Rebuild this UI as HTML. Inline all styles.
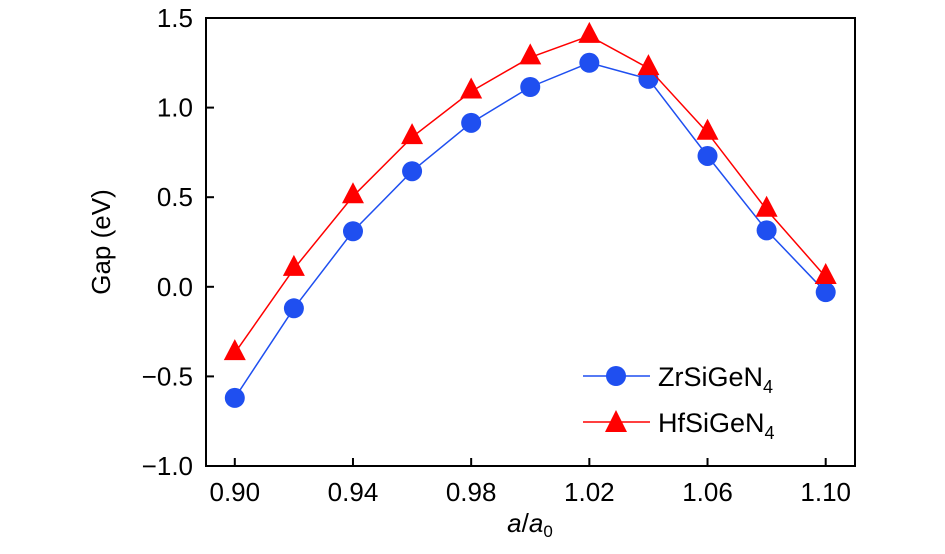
<!DOCTYPE html>
<html><head><meta charset="utf-8"><style>
body{margin:0;background:#fff}
text{font-family:"Liberation Sans",sans-serif;fill:#000}
</style></head><body>
<svg id="chart" width="945" height="549" xmlns="http://www.w3.org/2000/svg">
<g id="marks"></g>
<rect x="206" y="18" width="649" height="448" fill="none" stroke="#000" stroke-width="2"/>
<g id="axes"></g>
<text x="110" y="242" font-size="26" text-anchor="middle" transform="rotate(-90 110 242)">Gap (eV)</text>
<text x="530" y="532" font-size="26" text-anchor="middle"><tspan font-style="italic">a</tspan>/<tspan font-style="italic">a</tspan><tspan font-size="17" dy="5">0</tspan></text>
<g>
<line x1="583" y1="376" x2="650" y2="376" stroke="#1f4ff0" stroke-width="1.5"/>
<circle cx="616" cy="376" r="10" fill="#1f4ff0"/>
<text x="658" y="386" font-size="27">ZrSiGeN<tspan font-size="18" dy="7">4</tspan></text>
<line x1="583" y1="422" x2="650" y2="422" stroke="#ff0000" stroke-width="1.5"/>
<polygon points="616,410 627,432 605,432" fill="#ff0000"/>
<text x="658" y="432" font-size="27">HfSiGeN<tspan font-size="18" dy="7">4</tspan></text>
</g>
</svg>
<script>
const xValues=[0.90,0.92,0.94,0.96,0.98,1.00,1.02,1.04,1.06,1.08,1.10];
const zrGap=[-0.62,-0.12,0.31,0.645,0.915,1.115,1.25,1.16,0.73,0.315,-0.03];
const hfGap=[-0.37,0.10,0.505,0.835,1.09,1.28,1.40,1.22,0.86,0.43,0.055];
const xTicks=[0.90,0.94,0.98,1.02,1.06,1.10];
const xTickLabels=["0.90","0.94","0.98","1.02","1.06","1.10"];
const yTicks=[-1.0,-0.5,0.0,0.5,1.0,1.5];
const yTickLabels=["\u22121.0","\u22120.5","0.0","0.5","1.0","1.5"];
const NS="http://www.w3.org/2000/svg";
function xs(v){return 234.8+(v-0.90)/0.2*590.9;}
function ys(v){return 466-(v+1.0)/2.5*448;}
const marks=document.getElementById('marks'),axes=document.getElementById('axes');
function mk(t,a,p){const e=document.createElementNS(NS,t);for(const k in a)e.setAttribute(k,a[k]);p.appendChild(e);return e;}
xTicks.forEach((v,i)=>{
 const l=mk('line',{x1:xs(v),x2:xs(v),y1:466,y2:458,stroke:'#000','stroke-width':2},axes);
 
 
 const t=mk('text',{x:xs(v),y:501,'font-size':26,'text-anchor':'middle'},axes);t.textContent=xTickLabels[i];
 
 
});
yTicks.forEach((v,i)=>{
 const l=mk('line',{x1:206,x2:214,y1:ys(v),y2:ys(v),stroke:'#000','stroke-width':2},axes);
 
 
 const t=mk('text',{x:193,y:ys(v)+9,'font-size':26,'text-anchor':'end'},axes);t.textContent=yTickLabels[i];
 
 
});
function series(vals,color,name,tri){
 const pl=mk('polyline',{points:vals.map((v,i)=>xs(xValues[i])+','+ys(v)).join(' '),fill:'none',stroke:color,'stroke-width':1.5},marks);
 
 
 vals.forEach((v,i)=>{
  const x=xs(xValues[i]),y=ys(v);let m;
  if(tri)m=mk('polygon',{points:`${x},${y-14} ${x+11},${y+7} ${x-11},${y+7}`,fill:color},marks);
  else m=mk('circle',{cx:x,cy:y,r:10,fill:color},marks);
  
  
 });
}
series(zrGap,'#1f4ff0','zrsigen4',false);
series(hfGap,'#ff0000','hfsigen4',true);
</script>
</body></html>
